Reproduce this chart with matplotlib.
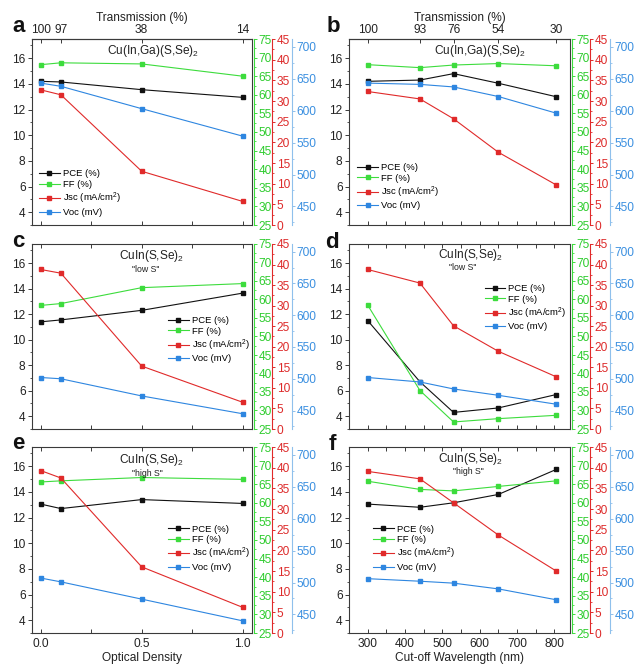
import matplotlib
matplotlib.use('Agg')
import matplotlib.pyplot as plt
from matplotlib.ticker import MultipleLocator
from matplotlib.lines import Line2D

plt.rcParams['font.family'] = ['Liberation Sans', 'DejaVu Sans']
plt.rcParams['mathtext.fontset'] = 'custom'
plt.rcParams['mathtext.rm'] = 'Liberation Sans'
plt.rcParams['mathtext.it'] = 'Liberation Sans:italic'
plt.rcParams['mathtext.bf'] = 'Liberation Sans:bold'

W, H = 638, 664

# ---------------- data ----------------
od = [0.0, 0.1, 0.5, 1.0]
wl = [300, 440, 530, 650, 805]
trans_od = ['100', '97', '38', '14']
trans_wl = ['100', '93', '76', '54', '30']

pce_a = [14.2, 14.15, 13.55, 12.95]
ff_a = [68.1, 68.6, 68.3, 65.0]
jsc_a = [32.7, 31.5, 13.0, 5.7]
voc_a = [643, 638, 603, 560]

pce_b = [14.2, 14.3, 14.8, 14.05, 13.0]
ff_b = [68.1, 67.3, 68.0, 68.4, 67.8]
jsc_b = [32.3, 30.5, 25.7, 17.6, 9.7]
voc_b = [643, 641, 637, 622, 596]

pce_c = [11.4, 11.55, 12.3, 13.65]
ff_c = [58.4, 58.9, 63.2, 64.3]
jsc_c = [38.8, 37.9, 15.3, 6.5]
voc_c = [502, 500, 473, 445]

pce_d = [11.5, 6.7, 4.3, 4.65, 5.7]
ff_d = [58.5, 35.4, 26.9, 27.8, 28.7]
jsc_d = [38.8, 35.5, 25.1, 18.9, 12.7]
voc_d = [502, 495, 484, 474, 460]

pce_e = [13.05, 12.7, 13.4, 13.1]
ff_e = [65.6, 65.9, 66.8, 66.3]
jsc_e = [39.3, 37.5, 16.0, 6.2]
voc_e = [507, 501, 474, 440]

pce_f = [13.05, 12.8, 13.15, 13.8, 15.75]
ff_f = [65.8, 63.6, 63.2, 64.4, 65.9]
jsc_f = [39.1, 37.3, 31.5, 23.7, 15.0]
voc_f = [506, 502, 499, 490, 473]

series_labels = ['PCE (%)', 'FF (%)', 'Jsc (mA/cm$^2$)', 'Voc (mV)']

# ---------------- style ----------------
C_BLK = '#111111'
C_GRN = '#3ddc3d'
C_RED = '#e02a2a'
C_BLU = '#2e86e0'
C_GRN_T = '#2ecc2e'
C_RED_T = '#dd2b2b'
C_BLU_T = '#3a8fe0'
C_BLU_S = '#8fc0ec'
FRAME = '#3a3a3a'
TFS = 8.6
LW = 0.8
MS = 3.0

fig = plt.figure(figsize=(W / 100, H / 100), dpi=100)


def fx(px):
    return px / W


def fy(py):
    return 1 - py / H


def make_panel(box, x, pce, ff, jsc, voc, kind, show_bottom, top_labels,
               letter, letter_pos, title, title_pos, sub, sub_pos, leg_pos, xlabel=None):
    l, t, r, b = box
    ax = fig.add_axes([fx(l), fy(b), (r - l) / W, (b - t) / H])
    ax.plot(x, pce, color=C_BLK, marker='s', ms=MS, lw=LW)
    ax.set_ylim(3.0, 17.5)
    ax.yaxis.set_minor_locator(MultipleLocator(1))
    ax.set_yticks([4, 6, 8, 10, 12, 14, 16])
    if kind == 'od':
        ax.set_xlim(-0.043, 1.046)
        ax.set_xticks([0.0, 0.5, 1.0])
        ax.xaxis.set_minor_locator(MultipleLocator(0.25))
        ax.set_xticklabels(['0.0', '0.5', '1.0'])
    else:
        ax.set_xlim(250, 842)
        ax.set_xticks([300, 400, 500, 600, 700, 800])
        ax.xaxis.set_minor_locator(MultipleLocator(50))
    for s in ax.spines.values():
        s.set_color(FRAME)
        s.set_linewidth(LW)
    ax.tick_params(axis='y', which='major', direction='out', length=3, width=0.7,
                   pad=1.6, labelsize=TFS, color=FRAME, labelcolor='#222222')
    ax.tick_params(axis='y', which='minor', direction='out', length=1.8, width=0.6, color=FRAME)
    ax.tick_params(axis='x', which='both', direction='in', length=3, width=0.7,
                   pad=3.5, labelsize=TFS, color=FRAME, labelcolor='#222222',
                   labelbottom=show_bottom, top=(top_labels is None))
    if xlabel:
        ax.set_xlabel(xlabel, fontsize=8.6, labelpad=1.5, color='#222222')

    if top_labels is not None:
        sec = ax.secondary_xaxis('top')
        sec.set_xticks(x, top_labels)
        sec.tick_params(direction='in', length=3, width=0.7, pad=2.5,
                        labelsize=TFS, color=FRAME, labelcolor='#222222')
        sec.spines['top'].set_color(FRAME)
        sec.spines['top'].set_linewidth(LW)
        sec.set_xlabel('Transmission (%)', fontsize=8.6, labelpad=2.0, color='#222222')

    axes_specs = [
        (ff, (25, 75), 5, 2.5, C_GRN, C_GRN, C_GRN_T, 1.4),
        (jsc, (0, 45), 5, 2.5, C_RED, C_RED, C_RED_T, 14.2),
        (voc, (421, 712), 50, 25, C_BLU, C_BLU_S, C_BLU_T, 28.6),
    ]
    last = None
    for vals, lim, maj, mnr, lc, sc, tc, off in axes_specs:
        tw = ax.twinx()
        tw.plot(x, vals, color=lc, marker='s', ms=MS, lw=LW)
        tw.set_ylim(*lim)
        tw.yaxis.set_major_locator(MultipleLocator(maj))
        tw.yaxis.set_minor_locator(MultipleLocator(mnr))
        for k in ['left', 'top', 'bottom']:
            tw.spines[k].set_visible(False)
        tw.spines['right'].set_position(('outward', off))
        tw.spines['right'].set_color(sc)
        tw.spines['right'].set_linewidth(LW)
        tw.tick_params(axis='y', which='major', direction='out', length=2.5, width=0.7,
                       pad=1.0, labelsize=TFS, color=sc, labelcolor=tc)
        tw.tick_params(axis='y', which='minor', direction='out', length=1.5, width=0.6, color=sc)
        last = tw
    last.set_yticks([450, 500, 550, 600, 650, 700])
    last.set_ylim(421, 712)

    handles = [Line2D([], [], color=c, marker='s', ms=MS, lw=LW)
               for c in (C_BLK, C_GRN, C_RED, C_BLU)]
    last.legend(handles, series_labels, loc='upper left',
                bbox_to_anchor=(fx(leg_pos[0]), fy(leg_pos[1])),
                bbox_transform=fig.transFigure, frameon=False, fontsize=6.8,
                handlelength=2.2, handletextpad=0.3, labelspacing=0.18,
                borderpad=0, borderaxespad=0)

    fig.text(fx(letter_pos[0]), fy(letter_pos[1]), letter, fontsize=16,
             fontweight='bold', ha='left', va='baseline', color='#111111')
    fig.text(fx(title_pos[0]), fy(title_pos[1]), title, fontsize=8.6,
             ha='center', va='center', color='#222222')
    if sub:
        fig.text(fx(sub_pos[0]), fy(sub_pos[1]), sub, fontsize=6.3,
                 ha='center', va='center', color='#222222')
    return ax


T1 = r'Cu(In,Ga)(S,Se)$_2$'
T2 = r'CuIn(S,Se)$_2$'

make_panel((32, 39, 252, 225), od, pce_a, ff_a, jsc_a, voc_a, 'od', False, trans_od,
           'a', (12, 32), T1, (153, 51), None, None, (39, 169.5))
make_panel((349, 39, 570, 225), wl, pce_b, ff_b, jsc_b, voc_b, 'wl', False, trans_wl,
           'b', (327, 32), T1, (480, 51), None, None, (357.3, 163))
make_panel((32, 244, 252, 429), od, pce_c, ff_c, jsc_c, voc_c, 'od', False, None,
           'c', (12, 247), T2, (152, 256), '"low S"', (146, 270), (168, 316))
make_panel((349, 244, 570, 429), wl, pce_d, ff_d, jsc_d, voc_d, 'wl', False, None,
           'd', (325, 248), T2, (470.5, 255), '"low S"', (463, 267), (484.7, 284))
make_panel((32, 447, 252, 633), od, pce_e, ff_e, jsc_e, voc_e, 'od', True, None,
           'e', (12, 449), T2, (152, 460), '"high S"', (147.5, 473), (168, 524.5),
           xlabel='Optical Density')
make_panel((349, 447, 570, 633), wl, pce_f, ff_f, jsc_f, voc_f, 'wl', True, None,
           'f', (329, 450), T2, (471, 459), '"high S"', (468.5, 472), (373, 524.5),
           xlabel='Cut-off Wavelength (nm)')

fig.savefig('out.png', dpi=100)
